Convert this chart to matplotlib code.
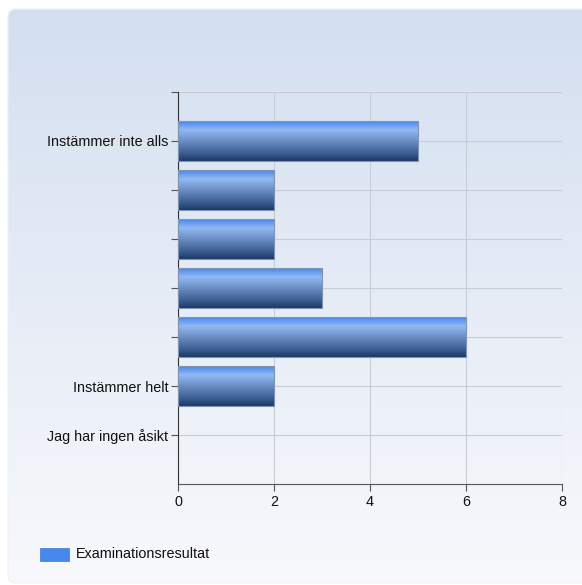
import numpy as np
import matplotlib
matplotlib.use("Agg")
import matplotlib.pyplot as plt
from matplotlib.patches import FancyBboxPatch, Rectangle
from matplotlib.colors import LinearSegmentedColormap

categories = ["Instämmer inte alls", "", "", "", "", "Instämmer helt", "Jag har ingen åsikt"]
values = [5, 2, 2, 3, 6, 2, 0]
series_name = "Examinationsresultat"
x_ticks = [0, 2, 4, 6, 8]

plt.rcParams['font.family'] = ['Liberation Sans', 'DejaVu Sans']

W, H = 582, 585
fig = plt.figure(figsize=(W / 100, H / 100), dpi=100)
fig.patch.set_facecolor("white")

# background panel with gradient
bg = fig.add_axes([0, 0, 1, 1], zorder=0)
bg.set_xlim(0, W)
bg.set_ylim(H, 0)
bg.axis("off")
grad = np.linspace(0, 1, 256).reshape(-1, 1)
bg_cmap = LinearSegmentedColormap.from_list("bg", ["#d3dff0", "#e6ecf6", "#f8f9fc"])
im = bg.imshow(grad, cmap=bg_cmap, extent=[8, W + 20, 583, 9], aspect="auto")
panel = FancyBboxPatch((8 + 8, 9 + 8), W + 20 - 8 - 16, 583 - 9 - 16,
                       boxstyle="round,pad=8", transform=bg.transData,
                       facecolor="none", edgecolor="#eef1f5", lw=0.8)
bg.add_patch(panel)
im.set_clip_path(panel)

# main axes
ax = fig.add_axes([178 / W, 1 - 484 / H, (562 - 178) / W, (484 - 92) / H], zorder=1)
ax.set_facecolor("none")
ax.set_xlim(0, 8)
ax.set_ylim(8, 0)
positions = np.arange(1, len(categories) + 1)

bar_cmap = LinearSegmentedColormap.from_list(
    "bar", [(0.0, "#4687ee"), (0.22, "#93b9f2"), (0.5, "#6a8ec4"), (0.8, "#3d5f93"), (1.0, "#1e3865")])
bar_h = 0.8
gy = np.linspace(0, 1, 128).reshape(-1, 1)
for p, v in zip(positions, values):
    if v <= 0:
        continue
    ax.imshow(gy, cmap=bar_cmap, extent=[0, v, p + bar_h / 2, p - bar_h / 2],
              aspect="auto", zorder=3, interpolation="bilinear")
    ax.add_patch(Rectangle((0, p - bar_h / 2), v, bar_h, facecolor="none",
                           edgecolor="#7f93b3", lw=0.8, zorder=4))
ax.set_xlim(0, 8)
ax.set_ylim(8, 0)

ax.set_xticks(x_ticks)
ax.set_xticklabels([str(t) for t in x_ticks])
ax.set_yticks(positions)
ax.set_yticklabels(categories)
ax.set_yticks([0], minor=True)
ax.grid(True, which="major", color="#c8ccd4", lw=0.8, zorder=0)
ax.axhline(0, color="#c8ccd4", lw=0.8, zorder=0)
for s in ["top", "right"]:
    ax.spines[s].set_visible(False)
ax.spines["left"].set_color("#333333")
ax.spines["bottom"].set_color("#555555")
ax.tick_params(axis="both", which="both", length=5, width=0.8, colors="#555555",
               labelcolor="#111111", labelsize=10.4)
ax.tick_params(axis="y", pad=2)
ax.tick_params(axis="x", pad=3)

# legend
leg = fig.add_axes([0, 0, 1, 1], zorder=2)
leg.set_xlim(0, W)
leg.set_ylim(H, 0)
leg.axis("off")
leg.add_patch(Rectangle((40, 548), 29, 13, facecolor="#4589ee", edgecolor="#3a78d8", lw=0.5))
leg.text(76, 554.5, series_name, va="center", ha="left", fontsize=10.4, color="#111111")

fig.savefig("out.png", dpi=100)
